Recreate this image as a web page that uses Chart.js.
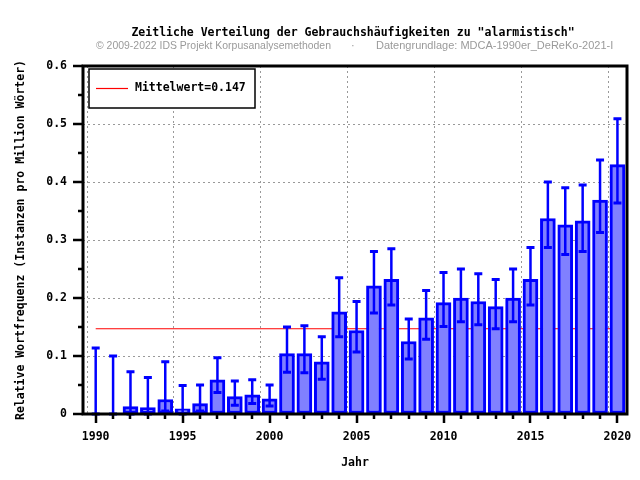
<!DOCTYPE html>
<html>
<head>
<meta charset="utf-8">
<script src="https://cdn.jsdelivr.net/npm/chart.js@4.4.1/dist/chart.umd.min.js"></script>
<style>
  html, body { margin: 0; padding: 0; background: #fff; }
</style>
</head>
<body>
<canvas id="chartCanvas" width="640" height="480"></canvas>
<script>
"use strict";

// data
const years = [1990, 1991, 1992, 1993, 1994, 1995, 1996, 1997, 1998, 1999, 2000,
    2001, 2002, 2003, 2004, 2005, 2006, 2007, 2008, 2009, 2010,
    2011, 2012, 2013, 2014, 2015, 2016, 2017, 2018, 2019, 2020];
const freq = [0, 0, 0.013, 0.011, 0.025, 0.009, 0.018, 0.059, 0.030, 0.033, 0.026,
    0.104, 0.104, 0.090, 0.176, 0.144, 0.221, 0.232, 0.125, 0.166, 0.192,
    0.200, 0.194, 0.185, 0.200, 0.232, 0.337, 0.326, 0.333, 0.369, 0.430];
const upper = [0.114, 0.100, 0.073, 0.063, 0.090, 0.049, 0.050, 0.097, 0.057, 0.059, 0.050,
    0.150, 0.152, 0.133, 0.235, 0.194, 0.280, 0.285, 0.164, 0.213, 0.244,
    0.250, 0.242, 0.232, 0.250, 0.287, 0.400, 0.390, 0.395, 0.438, 0.509];
const lower = [0, 0, 0, 0, 0.005, 0, 0.005, 0.037, 0.015, 0.018, 0.014,
    0.072, 0.071, 0.060, 0.133, 0.107, 0.174, 0.188, 0.095, 0.129, 0.151,
    0.159, 0.154, 0.147, 0.159, 0.188, 0.287, 0.275, 0.280, 0.313, 0.364];
const meanValue = 0.147;
const meanLabel = "Mittelwert=0.147";

const titleText = 'Zeitliche Verteilung der Gebrauchshäufigkeiten zu "alarmistisch"';
const subLeft = "© 2009-2022 IDS Projekt Korpusanalysemethoden";
const subRight = "Datengrundlage: MDCA-1990er_DeReKo-2021-I";

const MONO = "'DejaVu Sans Mono', monospace";

const ctx = document.getElementById('chartCanvas');

// title, subtitle, tick marks, error bars, frame and legend box
const decorations = {
    id: 'decorations',
    afterDraw(chart) {
        const c = chart.ctx;
        const xs = chart.scales.x, ys = chart.scales.y;
        const a = chart.chartArea;
        c.save();

        // titles
        c.fillStyle = '#000';
        c.font = "bold 11.5px " + MONO;
        c.textAlign = 'center';
        c.textBaseline = 'middle';
        c.fillText(titleText, 353, 33);
        c.fillStyle = '#9a9a9a';
        c.font = "11px 'Liberation Sans', Arial, sans-serif";
        c.textAlign = 'left';
        c.fillText(subLeft, 96, 46, 235);
        c.fillText("·", 351, 46);
        c.fillText(subRight, 376, 46, 251);

        // error bars
        c.strokeStyle = '#0000ff';
        years.forEach(function (yr, i) {
            const px = xs.getPixelForValue(yr);
            const top = ys.getPixelForValue(upper[i]);
            const bot = ys.getPixelForValue(lower[i]);
            c.lineWidth = 2.5;
            c.beginPath();
            c.moveTo(px, top);
            c.lineTo(px, bot);
            c.stroke();
            c.lineWidth = 3;
            c.beginPath();
            c.moveTo(px - 4, top);
            c.lineTo(px + 4, top);
            c.moveTo(px - 4, bot);
            c.lineTo(px + 4, bot);
            c.stroke();
        });

        // tick marks
        c.strokeStyle = '#000';
        c.lineWidth = 2.5;
        c.beginPath();
        xs.ticks.forEach(function (t) {
            const px = Math.round(xs.getPixelForValue(t.value));
            const len = t.value % 5 === 0 ? 9 : 5;
            c.moveTo(px, a.bottom);
            c.lineTo(px, a.bottom + len);
        });
        ys.ticks.forEach(function (t) {
            const py = Math.round(ys.getPixelForValue(t.value));
            const len = Math.round(t.value * 100) % 10 === 0 ? 10 : 5;
            c.moveTo(a.left, py);
            c.lineTo(a.left - len, py);
        });
        c.stroke();

        // frame
        c.lineWidth = 3;
        c.strokeRect(a.left, a.top, a.right - a.left, a.bottom - a.top);

        // legend
        c.fillStyle = '#fff';
        c.fillRect(89, 69, 166, 39);
        c.lineWidth = 1.5;
        c.strokeStyle = '#000';
        c.strokeRect(89, 69, 166, 39);
        c.strokeStyle = '#ff0000';
        c.lineWidth = 1.2;
        c.beginPath();
        c.moveTo(96, 88.5);
        c.lineTo(128, 88.5);
        c.stroke();
        c.fillStyle = '#000';
        c.font = "bold 11.5px " + MONO;
        c.textAlign = 'left';
        c.textBaseline = 'middle';
        c.fillText(chart.data.datasets[1].label, 135, 88.5);

        c.restore();
    }
};

const data = {
    datasets: [{
        type: 'bar',
        label: 'Relative Wortfrequenz',
        data: years.map((yr, i) => ({ x: yr, y: freq[i] })),
        backgroundColor: '#8080ff',
        borderColor: '#0000ff',
        borderWidth: (c) => (c.raw && c.raw.y > 0 ? 3 : 0),
        borderSkipped: false,
        barThickness: 15,
        order: 1
    }, {
        type: 'line',
        label: meanLabel,
        data: [{ x: years[0], y: meanValue }, { x: years[years.length - 1], y: meanValue }],
        borderColor: '#ff0000',
        borderWidth: 1.2,
        pointRadius: 0,
        fill: false,
        order: 2
    }]
};

const config = {
    type: 'bar',
    data: data,
    options: {
        responsive: false,
        animation: false,
        layout: { padding: { top: 66, right: 13, left: 0, bottom: 0 } },
        plugins: {
            legend: { display: false },
            title: { display: false },
            tooltip: { enabled: false }
        },
        scales: {
            x: {
                type: 'linear',
                min: 1989.27,
                max: 2020.55,
                offset: false,
                afterFit(scale) { scale.height = 66; },
                border: { display: false, dash: [2, 3] },
                grid: {
                    color: (c) => (c.tick && c.tick.value % 5 === 0 ? '#999' : 'rgba(0,0,0,0)'),
                    lineWidth: 1,
                    drawTicks: true,
                    tickLength: 9,
                    tickColor: 'rgba(0,0,0,0)'
                },
                ticks: {
                    stepSize: 1,
                    autoSkip: false,
                    includeBounds: false,
                    maxRotation: 0,
                    padding: 7,
                    color: '#000',
                    font: { family: MONO, size: 11.5, weight: 'bold' },
                    callback: (v) => (v % 5 === 0 ? String(v) : '')
                },
                title: {
                    display: true,
                    text: 'Jahr',
                    color: '#000',
                    font: { family: MONO, size: 11.5, weight: 'bold' },
                    padding: { top: 4, bottom: 10 }
                }
            },
            y: {
                min: 0,
                max: 0.6,
                afterFit(scale) { scale.width = 83; },
                border: { display: false, dash: [2, 3] },
                grid: {
                    color: (c) => (c.tick && Math.round(c.tick.value * 100) % 10 === 0 && c.tick.value > 0 ? '#999' : 'rgba(0,0,0,0)'),
                    lineWidth: 1,
                    drawTicks: true,
                    tickLength: 9,
                    tickColor: 'rgba(0,0,0,0)'
                },
                ticks: {
                    stepSize: 0.05,
                    autoSkip: false,
                    padding: 7,
                    color: '#000',
                    font: { family: MONO, size: 11.5, weight: 'bold' },
                    callback: (v) => (Math.round(v * 100) % 10 === 0 ? String(Math.round(v * 10) / 10) : '')
                },
                title: {
                    display: true,
                    text: 'Relative Wortfrequenz (Instanzen pro Million Wörter)',
                    color: '#000',
                    font: { family: MONO, size: 11.5, weight: 'bold' },
                    padding: { top: 14, bottom: 4 }
                }
            }
        }
    },
    plugins: [decorations]
};

console.log("Rendering chart...");
new Chart(ctx, config);
</script>
</body>
</html>
